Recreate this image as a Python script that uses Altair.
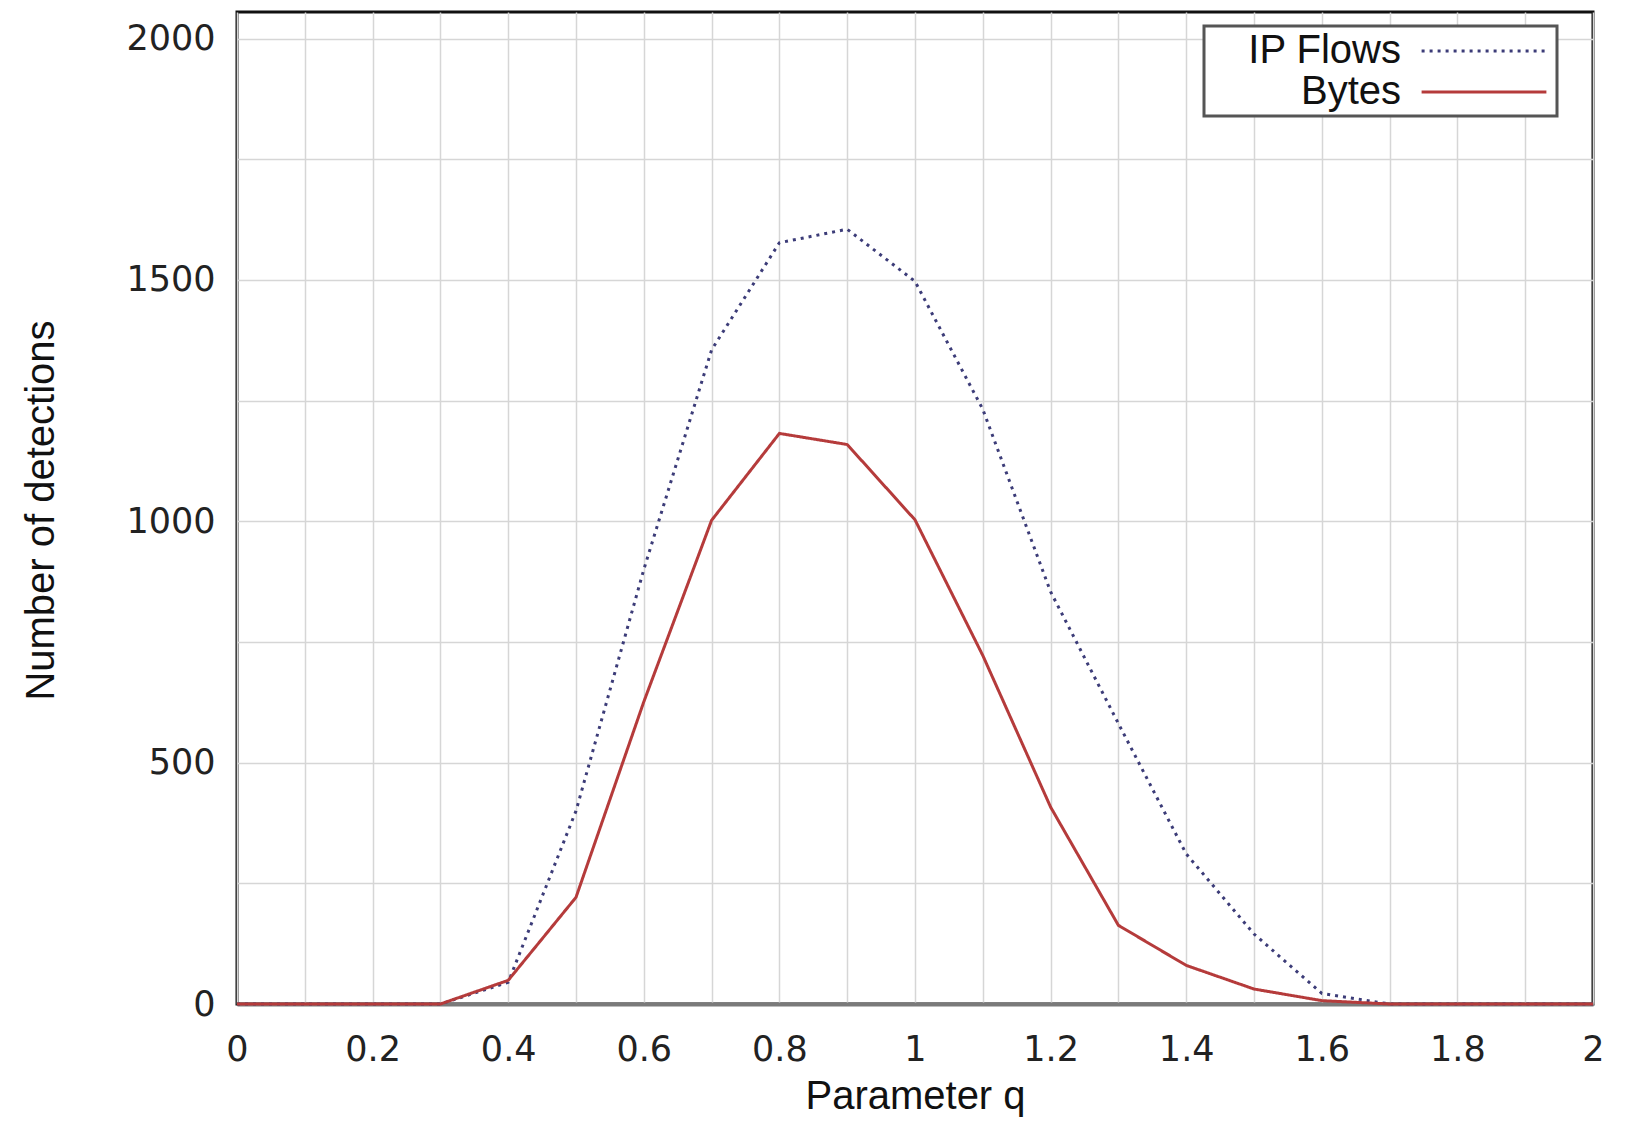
import altair as alt
import pandas as pd

q_values = [0.0, 0.1, 0.2, 0.3, 0.4, 0.5, 0.6, 0.7, 0.8, 0.9, 1.0,
            1.1, 1.2, 1.3, 1.4, 1.5, 1.6, 1.7, 1.8, 1.9, 2.0]
ip_flows = [0, 0, 0, 0, 45, 400, 900, 1355, 1577, 1605, 1497,
            1232, 854, 581, 311, 145, 22, 0, 0, 0, 0]
bytes_ = [0, 0, 0, 0, 49, 221, 626, 1002, 1182, 1159, 1003,
          722, 408, 163, 80, 31, 7, 0, 0, 0, 0]
series_names = ["IP Flows", "Bytes"]
series_colors = ["#3c3c78", "#b53b3b"]
series_dashes = [[3, 5], [1, 0]]
x_ticks = [round(i * 0.1, 1) for i in range(21)]
y_ticks = [i * 250 for i in range(9)]

rows = []
for name, vals in zip(series_names, [ip_flows, bytes_]):
    for qv, v in zip(q_values, vals):
        rows.append({"q": qv, "n": v, "series": name})
df = pd.DataFrame(rows)

legend_opts = dict(title=None, orient="none", legendX=967, legendY=14,
                   symbolType="M-3.2,0L3.2,0", symbolSize=1521,
                   symbolStrokeWidth=3, labelAlign="right",
                   symbolOffset=255, labelOffset={"expr": "-104"},
                   padding=4, strokeColor="#555555",
                   fillColor="white", rowPadding=0)

chart = alt.Chart(df).mark_line(strokeWidth=3, strokeCap="butt").encode(
    x=alt.X("q:Q", scale=alt.Scale(domain=[0, 2], nice=False, zero=False),
            axis=alt.Axis(values=x_ticks, format=".1~f",
                          labelExpr="round(datum.value*10) % 2 == 0 ? datum.label : ''",
                          title="Parameter q", grid=True, ticks=False,
                          domainColor="#7a7a7a", domainWidth=4,
                          labelPadding=28, labelFlush=False,
                          titleX=678, titleY=72, titleBaseline="top")),
    y=alt.Y("n:Q", scale=alt.Scale(domain=[0, 2055], nice=False),
            axis=alt.Axis(values=y_ticks,
                          labelExpr="datum.value % 500 == 0 ? datum.label : ''",
                          format="d",
                          title="Number of detections", grid=True, ticks=False,
                          domain=False, labelPadding=22,
                          titleX=-196, titleY=498, titleAngle=270,
                          titleBaseline="middle")),
    color=alt.Color("series:N",
                    scale=alt.Scale(domain=series_names, range=series_colors),
                    legend=alt.Legend(**legend_opts)),
    strokeDash=alt.StrokeDash("series:N",
                              scale=alt.Scale(domain=series_names, range=series_dashes),
                              legend=alt.Legend(**legend_opts)),
).properties(
    width=1356, height=992,
    autosize=alt.AutoSizeParams(type="none"),
    padding={"left": 229, "top": 4, "right": 26, "bottom": 118},
).configure_view(
    stroke="#111111", strokeWidth=3
).configure_axis(
    gridColor="#d6d6d6", gridWidth=1.5,
    labelFont="DejaVu Sans", labelFontSize=35, labelColor="#222222",
    titleFont="Liberation Sans", titleFontSize=40, titleFontWeight="normal",
    titleColor="#111111"
).configure_legend(
    labelFont="Liberation Sans", labelFontSize=40, labelColor="#111111",
    strokeWidth=3
)

chart.save("out.html", embed_options={"renderer": "svg", "actions": False})
